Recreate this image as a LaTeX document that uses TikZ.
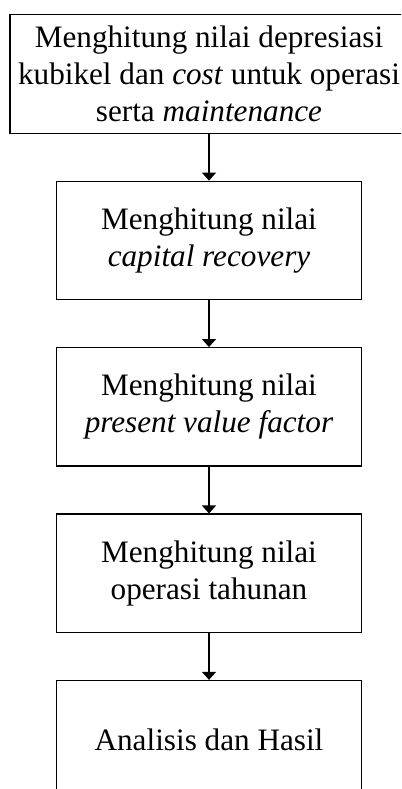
\documentclass[tikz,border=0pt]{standalone}
\usepackage{fontspec}
\setmainfont{Liberation Serif}
\usetikzlibrary{arrows.meta, positioning}
\tikzstyle{arrow} = [line width=0.8pt, -{Triangle[width=10.5pt, length=6pt]}]
\tikzstyle{stepbox} = [rectangle, draw=black, line width=0.8pt, minimum width=229pt, minimum height=88.8pt, align=center, inner sep=0pt, font=\fontsize{23.4}{27.6}\selectfont]

\begin{document}
\begin{tikzpicture}[node distance=35.2pt]

\useasboundingbox (0,0) rectangle (300.75pt,-591.75pt);
\clip (0,0) rectangle (300.75pt,-591.75pt);

\node (depresiasi) [stepbox, minimum width=298.5pt] at (156.75pt,-55.5pt) {Menghitung nilai depresiasi\\kubikel dan \textit{cost} untuk operasi\\serta \textit{maintenance}};
\node (capital) [stepbox, below=of depresiasi] {Menghitung nilai\\\textit{capital recovery}};
\node (present) [stepbox, below=of capital] {Menghitung nilai\\\textit{present value factor}};
\node (tahunan) [stepbox, below=of present] {Menghitung nilai\\operasi tahunan};
\node (hasil) [stepbox, below=of tahunan] {Analisis dan Hasil};

\draw [arrow] (depresiasi) -- (capital);
\draw [arrow] (capital) -- (present);
\draw [arrow] (present) -- (tahunan);
\draw [arrow] (tahunan) -- (hasil);

\end{tikzpicture}
\end{document}
